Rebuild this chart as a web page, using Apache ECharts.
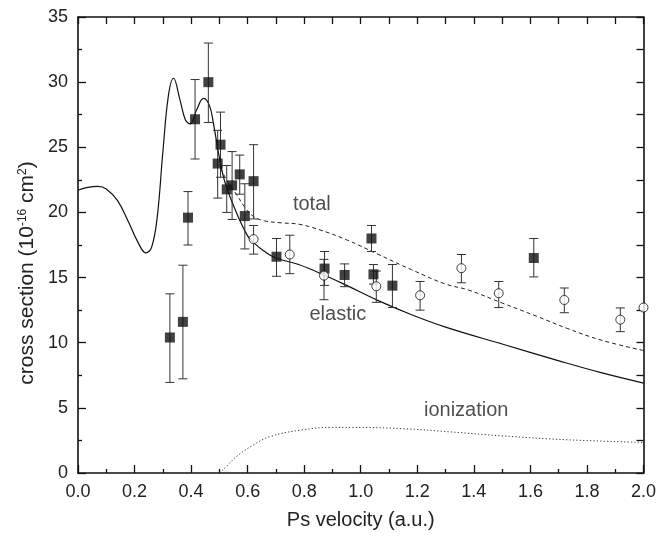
<!DOCTYPE html>
<html>
<head>
<meta charset="utf-8">
<script src="https://cdn.jsdelivr.net/npm/echarts@6/dist/echarts.min.js"></script>
<style>
  html, body { margin: 0; padding: 0; background: #fff; }
  #main { width: 659px; height: 539px; }
</style>
</head>
<body>
<div id="main"></div>
<script>
// theory curves
var elasticX = [0.00, 0.03, 0.07, 0.10, 0.14, 0.18, 0.21, 0.24, 0.26, 0.28, 0.30, 0.32, 0.338, 0.36, 0.38, 0.397, 0.42, 0.444, 0.465, 0.48, 0.50, 0.52, 0.56, 0.60, 0.62, 0.66, 0.70, 0.78, 0.87, 0.95, 1.06, 1.18, 1.30, 1.50, 1.71, 1.85, 2.00];
var elasticY = [21.7, 21.9, 22.0, 21.8, 20.9, 19.2, 17.8, 16.9, 17.3, 19.6, 24.6, 29.0, 30.3, 28.7, 27.1, 26.8, 27.9, 28.75, 28.2, 26.7, 24.2, 22.3, 20.0, 18.2, 17.7, 17.0, 16.5, 16.0, 15.2, 14.4, 13.25, 12.15, 11.2, 9.9, 8.55, 7.7, 6.9];

var totalX = [0.505, 0.53, 0.56, 0.59, 0.62, 0.66, 0.72, 0.78, 0.85, 0.95, 1.06, 1.18, 1.30, 1.38, 1.50, 1.62, 1.73, 1.85, 2.00];
var totalY = [23.4, 22.3, 21.4, 20.4, 19.7, 19.35, 19.2, 19.1, 18.7, 17.9, 16.8, 15.6, 14.5, 14.05, 13.05, 12.05, 11.1, 10.2, 9.4];

var ionX = [0.50, 0.52, 0.56, 0.62, 0.68, 0.79, 0.90, 0.97, 1.15, 1.32, 1.50, 1.73, 2.00];
var ionY = [0.0, 0.4, 1.25, 2.15, 2.8, 3.3, 3.5, 3.5, 3.4, 3.15, 2.85, 2.55, 2.35];

// measured points: filled squares
var sqX  = [0.325, 0.371, 0.389, 0.414, 0.461, 0.494, 0.504, 0.526, 0.545, 0.572, 0.590, 0.621, 0.702, 0.872, 0.943, 1.038, 1.045, 1.112, 1.612];
var sqY  = [10.4, 11.6, 19.6, 27.15, 30.0, 23.75, 25.2, 21.77, 22.08, 22.92, 19.72, 22.4, 16.6, 15.69, 15.2, 18.0, 15.25, 14.38, 16.5];
var sqLo = [6.95, 7.23, 17.5, 24.1, 26.9, 21.1, 22.7, 20.0, 19.46, 21.4, 17.2, 19.5, 15.1, 14.4, 14.3, 17.0, 14.5, 12.7, 15.05];
var sqHi = [13.75, 15.95, 21.6, 30.2, 33.0, 26.3, 27.7, 23.6, 24.67, 24.4, 22.2, 25.2, 18.0, 17.0, 16.05, 19.0, 16.0, 16.0, 18.0];

// measured points: open circles
var ocX  = [0.621, 0.749, 0.870, 1.055, 1.21, 1.356, 1.488, 1.72, 1.918, 2.0];
var ocY  = [17.95, 16.77, 15.15, 14.33, 13.64, 15.72, 13.8, 13.28, 11.77, 12.7];
var ocLo = [16.8, 15.3, 13.3, 13.1, 12.5, 14.6, 12.7, 12.3, 10.85, 12.7];
var ocHi = [19.0, 18.25, 16.4, 15.5, 14.7, 16.77, 14.7, 14.2, 12.67, 12.7];

// curve names placed on the plot
var curveLabels = [[0.827, 20.6, 'total'], [0.919, 12.15, 'elastic'], [1.373, 4.77, 'ionization']];

var FONT = 'Liberation Sans, Arial, Helvetica, sans-serif';

function zip(xs, ys) {
  var out = [];
  for (var i = 0; i < xs.length; i++) out.push([xs[i], ys[i]]);
  return out;
}
function zip3(xs, a, b) {
  var out = [];
  for (var i = 0; i < xs.length; i++) out.push([xs[i], a[i], b[i]]);
  return out;
}

// error bar with caps
function renderErrorBar(params, api) {
  var x = api.value(0);
  var top = api.coord([x, api.value(2)]);
  var bot = api.coord([x, api.value(1)]);
  if (Math.abs(top[1] - bot[1]) < 1) return null;
  var hw = 4.5;
  var st = { stroke: '#333', lineWidth: 1 };
  return {
    type: 'group',
    children: [
      { type: 'line', shape: { x1: top[0], y1: top[1], x2: bot[0], y2: bot[1] }, style: st },
      { type: 'line', shape: { x1: top[0] - hw, y1: top[1], x2: top[0] + hw, y2: top[1] }, style: st },
      { type: 'line', shape: { x1: bot[0] - hw, y1: bot[1], x2: bot[0] + hw, y2: bot[1] }, style: st }
    ]
  };
}

var axisLine = { show: true, onZero: false, lineStyle: { color: '#111', width: 1.6 } };

var chart = echarts.init(document.getElementById('main'), null, { renderer: 'canvas' });

var option = {
  animation: false,
  backgroundColor: '#fff',
  grid: { left: 78, right: 13, top: 17, bottom: 66 },
  xAxis: [{
    type: 'value', min: 0, max: 2, interval: 0.2,
    axisLine: axisLine,
    axisTick: { inside: true, length: 8, lineStyle: { color: '#111', width: 1.3 } },
    minorTick: { show: true, splitNumber: 2, length: 4, lineStyle: { color: '#111', width: 1.3 } },
    axisLabel: { color: '#222', fontSize: 18, fontFamily: FONT, margin: 10, formatter: function (v) { return v.toFixed(1); } },
    splitLine: { show: false },
    name: 'Ps velocity (a.u.)', nameLocation: 'middle', nameGap: 37,
    nameTextStyle: { color: '#222', fontSize: 20, fontFamily: FONT }
  }, {
    type: 'value', position: 'top', min: 0, max: 2, interval: 0.1,
    axisLine: axisLine,
    axisTick: { inside: true, length: 7, lineStyle: { color: '#111', width: 1.3 } },
    axisLabel: { show: false },
    splitLine: { show: false }
  }],
  yAxis: [{
    type: 'value', min: 0, max: 35, interval: 5,
    axisLine: axisLine,
    axisTick: { inside: true, length: 8, lineStyle: { color: '#111', width: 1.3 } },
    minorTick: { show: true, splitNumber: 2, length: 4, lineStyle: { color: '#111', width: 1.3 } },
    axisLabel: { color: '#222', fontSize: 18, fontFamily: FONT, margin: 10 },
    splitLine: { show: false }
  }, {
    type: 'value', position: 'right', min: 0, max: 35, interval: 2.5,
    axisLine: axisLine,
    axisTick: { inside: true, length: 7, lineStyle: { color: '#111', width: 1.3 } },
    axisLabel: { show: false },
    splitLine: { show: false }
  }],
  graphic: [{
    type: 'text',
    x: 27, y: 273,
    rotation: Math.PI / 2,
    style: {
      text: 'cross section (10{sup|-16} cm{sup|2})',
      font: '21px ' + FONT,
      fill: '#222',
      align: 'center',
      verticalAlign: 'middle',
      rich: { sup: { fontSize: 12, fontFamily: FONT, verticalAlign: 'top', fill: '#222' } }
    }
  }],
  series: [
    {
      name: 'ionization', type: 'line', data: zip(ionX, ionY), smooth: 0.4,
      showSymbol: false, symbol: 'none',
      lineStyle: { color: '#333', width: 1, type: [1.2, 2.2] }, z: 2
    },
    {
      name: 'total', type: 'line', data: zip(totalX, totalY), smooth: 0.4,
      showSymbol: false, symbol: 'none',
      lineStyle: { color: '#222', width: 1, type: [4, 3] }, z: 2
    },
    {
      name: 'elastic', type: 'line', data: zip(elasticX, elasticY), smooth: 0.4,
      showSymbol: false, symbol: 'none',
      lineStyle: { color: '#111', width: 1.2 }, z: 2
    },
    {
      name: 'sqErr', type: 'custom', renderItem: renderErrorBar,
      data: zip3(sqX, sqLo, sqHi), encode: { x: 0, y: [1, 2] }, z: 3
    },
    {
      name: 'ocErr', type: 'custom', renderItem: renderErrorBar,
      data: zip3(ocX, ocLo, ocHi), encode: { x: 0, y: [1, 2] }, z: 3
    },
    {
      name: 'filled', type: 'scatter', data: zip(sqX, sqY),
      symbol: 'rect', symbolSize: 10,
      itemStyle: { color: '#111' }, z: 4
    },
    {
      name: 'open', type: 'scatter', data: zip(ocX, ocY),
      symbol: 'circle', symbolSize: 9,
      itemStyle: { color: '#fff', borderColor: '#111', borderWidth: 1 }, z: 4
    },
    {
      name: 'labels', type: 'scatter', data: curveLabels,
      symbolSize: 0, silent: true,
      label: {
        show: true, position: 'inside', color: '#222', fontSize: 20, fontFamily: FONT,
        formatter: function (p) { return p.value[2]; }
      }, z: 5
    }
  ]
};

chart.setOption(option);
</script>
</body>
</html>
